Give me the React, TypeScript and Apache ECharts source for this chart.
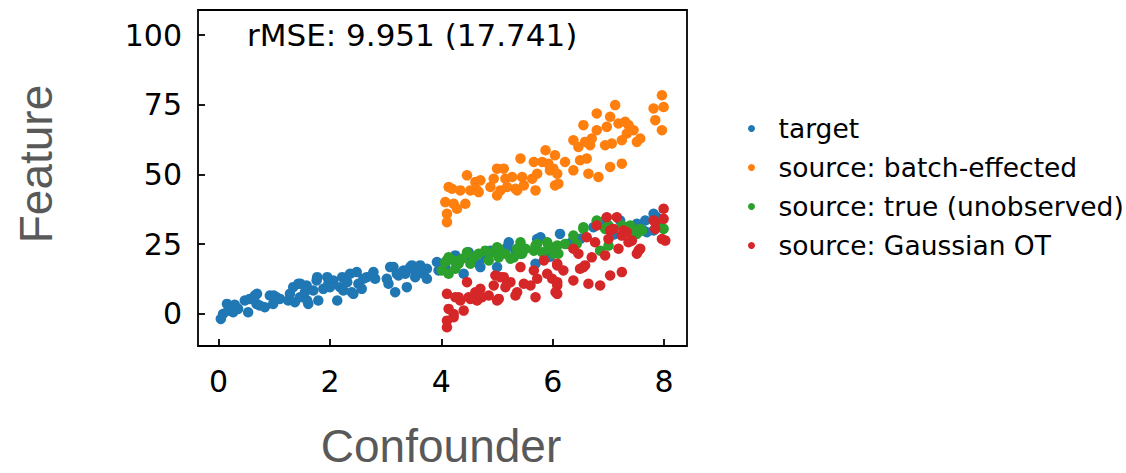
import React, { useEffect, useRef } from "react";
import * as echarts from "echarts";

const seriesNames = [
  "target",
  "source: batch-effected",
  "source: true (unobserved)",
  "source: Gaussian OT",
];
const seriesColors = ["#1f77b4", "#ff7f0e", "#2ca02c", "#d62728"];
const xTicks = [0, 2, 4, 6, 8];
const yTicks = [0, 25, 50, 75, 100];
const annotation = "rMSE: 9.951 (17.741)";
const xTitle = "Confounder";
const yTitle = "Feature";

const target: number[][] = [
  [0.04, -1.8], [0.08, 0], [0.17, 1.2], [0.23, 2.4], [0.29, 3.3], [0.26, 0.6], [0.35, 1.8],
  [0.47, 4.8], [0.53, 0.6], [0.56, 5.4], [0.65, 6.6], [0.68, 3.6], [0.74, 3.0], [0.83, 2.4],
  [0.92, 6.6], [0.98, 3.6], [1.04, 6.0], [1.10, 5.4], [1.25, 4.8], [1.28, 7.2], [1.34, 9.6],
  [1.37, 4.2], [1.43, 10.8], [1.46, 6.0], [1.55, 7.8], [1.58, 10.2], [1.61, 3.6], [1.70, 8.4],
  [1.76, 12], [1.79, 4.8], [1.88, 9.0], [0.15, 3.6], [0.69, 7.2], [0.99, 6.6], [1.47, 10.8],
  [1.77, 13.2], [1.59, 4.8],
  [1.97, 10.8], [2.06, 12.0], [2.13, 4.8], [2.18, 9.6], [2.22, 13.2], [2.31, 11.4], [2.36, 14.4],
  [2.39, 7.8], [2.48, 15.0], [2.51, 10.8], [2.57, 9.0], [2.66, 13.2], [2.78, 15.0], [2.81, 12.6],
  [3.02, 12.6], [3.05, 10.8], [3.14, 16.8], [3.17, 7.8], [3.23, 13.8], [3.35, 14.4], [3.38, 9.6],
  [3.47, 17.4], [3.53, 13.2], [3.62, 17.4], [3.68, 14.4], [3.74, 12.6], [3.95, 15.6],
  [2.24, 8.4], [2.42, 7.2], [2.60, 12.6], [2.75, 13.8], [3.08, 16.8], [3.20, 14.4], [3.32, 15.6],
  [3.44, 16.8], [3.53, 15.0], [3.74, 16.2], [3.92, 18.6], [2.0, 9.6], [1.95, 13.2],
  [4.07, 16.8], [4.25, 21], [4.40, 14.4], [4.49, 22.1], [4.67, 18], [4.70, 16.8], [4.79, 20.3],
  [4.88, 22.7], [5.0, 16.8], [5.18, 23.9], [5.21, 25.7], [5.33, 22.7], [5.42, 21.6], [5.69, 18],
  [5.72, 26.9], [5.78, 27.5], [6.05, 23.9], [6.13, 28.7], [6.25, 25.1], [6.34, 25.7], [6.73, 31.1],
  [6.94, 33.5], [7.21, 33.5], [7.51, 32.3], [7.63, 29.9], [7.66, 33.5], [7.69, 29.3], [7.81, 35.9],
  [7.86, 34.8], [7.93, 31.1], [7.81, 29.9], [6.5, 27], [7.1, 28.5], [5.95, 20.5], [4.55, 19.5],
];

const batchEffected: number[][] = [
  [4.10, 32.9], [4.10, 35.9], [4.07, 40.1], [4.13, 45.5], [4.19, 44.9], [4.22, 39.5], [4.28, 37.7],
  [4.34, 44.3], [4.43, 39.5], [4.46, 49.7], [4.52, 44.3], [4.61, 47.3], [4.64, 44.3], [4.70, 47.9],
  [4.67, 43.7], [4.88, 45.5], [4.94, 48.5], [5.0, 52.1], [5.0, 42.5], [5.06, 44.3], [5.12, 52.1],
  [5.15, 48.5], [5.18, 45.5], [5.27, 49.1], [5.33, 44.9], [5.36, 44.3], [5.42, 55.7], [5.45, 49.1],
  [5.48, 46.1], [5.63, 48.5], [5.66, 54.5], [5.69, 44.3], [5.72, 50.3], [5.81, 54.5], [5.87, 58.7],
  [5.92, 53.9], [5.95, 51.5], [6.01, 52.1], [6.04, 46.1],
  [6.08, 50.3], [6.10, 46.7], [6.22, 54.5], [6.37, 62.3], [6.37, 51.5], [6.46, 59.9], [6.49, 55.1],
  [6.55, 67.7], [6.58, 61.7], [6.61, 55.7], [6.64, 50.3], [6.67, 60.5], [6.70, 62.9], [6.79, 71.9],
  [6.79, 65.9], [6.82, 49.1], [6.94, 60.5], [6.97, 67.1], [7.03, 70.7], [7.03, 52.7], [7.06, 61.1],
  [7.12, 74.9], [7.18, 68.3], [7.24, 62.3], [7.24, 53.9], [7.30, 68.9], [7.33, 64.7], [7.36, 67.7],
  [7.45, 65.9], [7.51, 61.7], [7.57, 62.9], [7.81, 73.7], [7.84, 69.5], [7.96, 78.4], [7.99, 74.2],
  [7.96, 65.9], [6.04, 56.9],
];

const trueSource: number[][] = [
  [4.01, 15.6], [4.07, 18.6], [4.13, 20.3], [4.13, 14.4], [4.22, 19.2], [4.25, 16.2], [4.31, 18.0],
  [4.37, 19.8], [4.46, 22.1], [4.52, 18.0], [4.58, 20.3], [4.67, 21.6], [4.79, 22.7], [4.85, 19.2],
  [4.94, 22.1], [5.0, 23.9], [5.03, 20.3], [5.15, 21.6], [5.24, 19.8], [5.36, 23.4], [5.45, 21.6],
  [5.51, 23.4], [5.66, 22.7], [5.72, 25.1], [5.81, 22.1], [5.92, 24.5], [6.01, 21.6],
  [4.10, 19.2], [5.03, 23.4], [5.30, 20.3], [5.42, 25.7], [5.69, 24.5], [5.90, 25.7], [5.99, 22.7],
  [6.37, 28.1], [6.43, 25.1], [6.55, 30.5], [6.79, 32.9], [6.85, 22.7], [7.0, 31.7], [7.24, 31.7],
  [7.33, 31.1], [7.45, 29.3], [7.57, 30.5], [7.99, 30.5],
  [6.08, 24.5], [6.10, 21.6], [6.22, 25.1], [6.55, 31.1], [6.79, 33.5], [6.94, 30.5], [7.0, 24.5],
  [7.39, 31.7], [7.51, 28.7], [7.60, 29.9], [7.93, 32.9],
];

const gaussianOT: number[][] = [
  [4.10, -4.8], [4.10, -2.4], [4.13, 1.8], [4.10, 7.2], [4.22, -1.2], [4.25, 6.0], [4.34, 4.8],
  [4.40, 1.2], [4.46, 11.4], [4.49, 6.0], [4.61, 7.8], [4.64, 4.8], [4.70, 9.0], [4.85, 6.6],
  [4.94, 10.2], [4.97, 13.8], [5.03, 5.4], [5.12, 13.2], [5.15, 9.6], [5.24, 11.4], [5.33, 6.6],
  [5.36, 7.8], [5.42, 16.8], [5.48, 10.8], [5.60, 10.2], [5.66, 15.6], [5.69, 6.0], [5.72, 12.6],
  [5.84, 19.2], [5.90, 14.4], [5.99, 12.6], [6.08, 10.2], [6.08, 17.4],
  [4.22, 0], [4.31, 6], [4.52, 5.4], [4.73, 6], [5.0, 4.8], [5.06, 13.2], [5.18, 10.8],
  [6.05, 7.8], [6.19, 15.6], [6.37, 12], [6.55, 16.8], [6.61, 27.5], [6.64, 10.8], [6.85, 10.2],
  [7.03, 13.8], [7.24, 15], [6.97, 34.7], [7.15, 34.7], [7.03, 29.9], [7.27, 29.9], [7.36, 25.7],
  [7.54, 22.7], [7.81, 33.5], [7.99, 37.7], [7.99, 34.1], [8.02, 26.3],
  [6.08, 18], [6.08, 11.4], [6.08, 7.2], [6.37, 23.4], [6.46, 21.6], [6.49, 16.2], [6.58, 17.4],
  [6.70, 20.3], [6.76, 25.7], [6.79, 31.7], [6.94, 21], [7.0, 26.9], [7.09, 30.5], [7.18, 23.4],
  [7.24, 28.1], [7.33, 29.3], [7.42, 26.3], [7.51, 21.6], [7.57, 23.4], [7.84, 32.9], [7.84, 30.5],
  [7.96, 26.9],
];

const allData = [target, batchEffected, trueSource, gaussianOT];

export default function App() {
  const ref = useRef<HTMLDivElement>(null);
  useEffect(() => {
    if (!ref.current) return;
    const chart = echarts.init(ref.current, undefined, { renderer: "svg" });
    const tickFont = "DejaVu Sans";
    chart.setOption({
      animation: false,
      backgroundColor: "#ffffff",
      grid: {
        left: 198,
        right: 439,
        top: 10,
        bottom: 127,
        show: true,
        borderColor: "#000000",
        borderWidth: 1.8,
        backgroundColor: "transparent",
      },
      xAxis: {
        type: "value",
        min: -0.37,
        max: 8.41,
        splitLine: { show: false },
        axisLine: { show: false, onZero: false },
        axisTick: {
          show: true,
          inside: true,
          length: 7,
          customValues: xTicks,
          lineStyle: { color: "#000", width: 1.8 },
        },
        axisLabel: {
          customValues: xTicks,
          fontSize: 30,
          fontFamily: tickFont,
          color: "#000",
          margin: 20,
        },
      },
      yAxis: {
        type: "value",
        min: -11.5,
        max: 109,
        splitLine: { show: false },
        axisLine: { show: false, onZero: false },
        axisTick: {
          show: true,
          inside: true,
          length: 7,
          customValues: yTicks,
          lineStyle: { color: "#000", width: 1.8 },
        },
        axisLabel: {
          customValues: yTicks,
          fontSize: 30,
          fontFamily: tickFont,
          color: "#000",
          margin: 16,
        },
      },
      legend: {
        orient: "vertical",
        left: 743,
        top: 110,
        itemWidth: 44,
        itemHeight: 7,
        itemGap: 12,
        icon: "circle",
        data: seriesNames,
        textStyle: { fontSize: 26.5, fontFamily: tickFont, color: "#000" },
      },
      graphic: [
        {
          type: "text",
          left: 247,
          top: 19,
          style: { text: annotation, fontSize: 31, fontFamily: tickFont, fill: "#000" },
        },
        {
          type: "text",
          x: 441,
          y: 446,
          style: {
            text: xTitle,
            fontSize: 46,
            fontFamily: "Liberation Sans",
            fill: "#595959",
            align: "center",
            verticalAlign: "middle",
          },
        },
        {
          type: "text",
          x: 36,
          y: 164,
          rotation: Math.PI / 2,
          style: {
            text: yTitle,
            fontSize: 46,
            fontFamily: "Liberation Sans",
            fill: "#595959",
            align: "center",
            verticalAlign: "middle",
          },
        },
      ],
      series: seriesNames.map((name, i) => ({
        name,
        type: "scatter",
        data: allData[i],
        symbol: "circle",
        symbolSize: 10.5,
        itemStyle: { color: seriesColors[i], opacity: 1 },
        z: 2 + i,
      })),
    });
    return () => chart.dispose();
  }, []);
  return (
    <div
      ref={ref}
      style={{ position: "fixed", left: 0, top: 0, width: 1126, height: 473 }}
    />
  );
}
